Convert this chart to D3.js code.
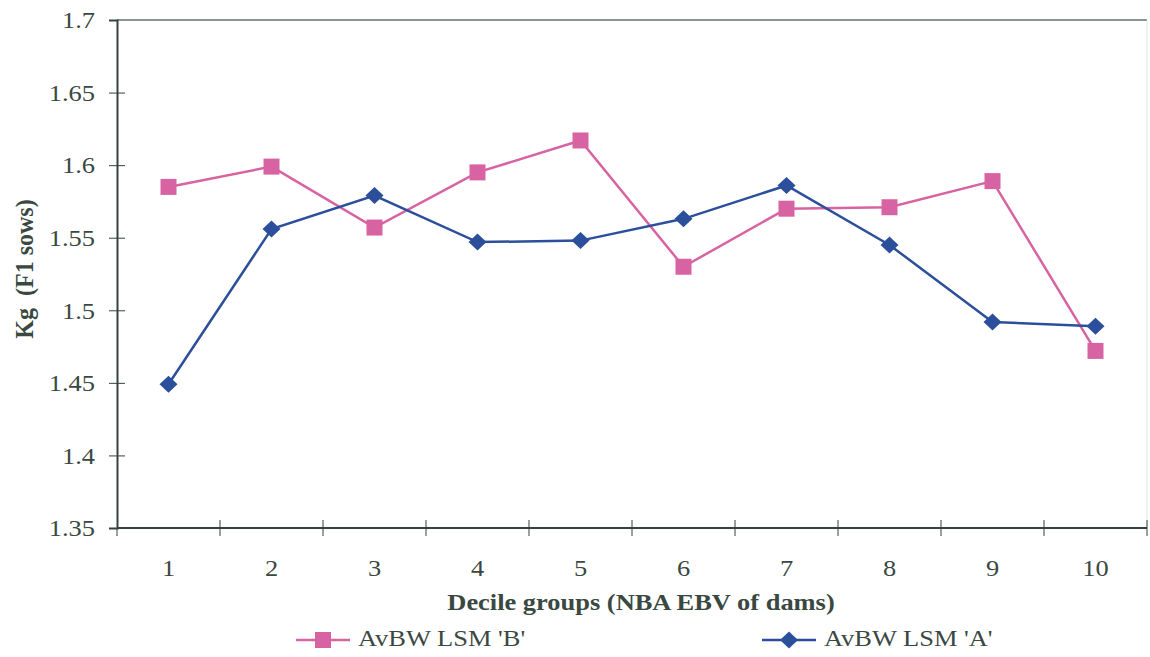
<!DOCTYPE html>
<html>
<head>
<meta charset="utf-8">
<script src="https://cdn.jsdelivr.net/npm/d3@7"></script>
<style>
  body { margin: 0; background: #fff; }
  svg { display: block; }
</style>
</head>
<body>
<div id="chart"></div>
<script>
/* chart data */
var deciles = [1, 2, 3, 4, 5, 6, 7, 8, 9, 10]
var lsmB = [1.585, 1.599, 1.557, 1.595, 1.617, 1.530, 1.570, 1.571, 1.589, 1.472]
var lsmA = [1.449, 1.556, 1.579, 1.547, 1.548, 1.563, 1.586, 1.545, 1.492, 1.489]
var yTicks = [1.35, 1.4, 1.45, 1.5, 1.55, 1.6, 1.65, 1.7]
var seriesNames = ["AvBW LSM 'B'", "AvBW LSM 'A'"]

var width = 1150, height = 657
var margin = { top: 20, right: 3, bottom: 129, left: 117 }
var axisColor = "#34433c"
var textColor = "#3a4842"
var fontFam = "'Liberation Serif', 'Times New Roman', Times, 'DejaVu Serif', serif"
var pink = "#d863a2", blue = "#2c4f9b"
var stretch = 1.15 // the scan is a bit wider than tall, text looks stretched

var svg = d3.select("#chart").append("svg")
  .attr("width", width)
  .attr("height", height)
  .attr("font-family", fontFam)

var x = d3.scaleBand()
  .domain(deciles)
  .range([margin.left, width - margin.right])

var y = d3.scaleLinear()
  .domain([1.35, 1.7])
  .range([height - margin.bottom, margin.top])

// helper: stretched text placed at (px,py)
function addText(parent, px, py, str, opts) {
  return parent.append("text")
    .attr("transform", `translate(${px},${py}) scale(${stretch},1)`)
    .attr("text-anchor", opts.anchor || "start")
    .attr("font-size", opts.size || 23)
    .attr("font-weight", opts.weight || "normal")
    .attr("fill", textColor)
    .text(str)
}

// plot frame (top + right are light)
svg.append("line")
  .attr("x1", margin.left).attr("x2", width - margin.right)
  .attr("y1", y(1.7)).attr("y2", y(1.7))
  .attr("stroke", "#8a9690").attr("stroke-width", 2)
svg.append("line")
  .attr("x1", width - margin.right).attr("x2", width - margin.right)
  .attr("y1", y(1.7)).attr("y2", y(1.35))
  .attr("stroke", "#dfe2e0").attr("stroke-width", 1)

// y axis
var yAxis = d3.axisLeft(y)
  .tickValues(yTicks)
  .tickFormat(d3.format("~g"))
  .tickSize(8)
var yg = svg.append("g")
  .attr("transform", `translate(${margin.left},0)`)
  .call(yAxis)
  .attr("font-family", fontFam)
  .attr("font-size", 23)
yg.select(".domain").attr("stroke", axisColor).attr("stroke-width", 2)
yg.selectAll(".tick line").attr("stroke", axisColor).attr("x2", 8).attr("x1", -8)
yg.selectAll(".tick text")
  .attr("fill", textColor)
  .attr("x", -22 / stretch)
  .attr("dy", "0.34em")
  .attr("transform", `scale(${stretch},1)`)
yg.select(".tick:last-of-type line").attr("x2", 0)

// x axis - ticks sit between categories and cross the axis
var xg = svg.append("g")
  .attr("transform", `translate(0,${y(1.35)})`)
xg.append("line")
  .attr("x1", margin.left).attr("x2", width - margin.right)
  .attr("stroke", axisColor).attr("stroke-width", 2)
var boundaries = deciles.map(d => x(d)).concat([width - margin.right])
xg.selectAll(".xtick")
  .data(boundaries)
  .enter().append("line")
  .attr("x1", d => d).attr("x2", d => d)
  .attr("y1", (d, i) => i == 0 ? 0 : -8).attr("y2", 8)
  .attr("stroke", axisColor)
deciles.forEach(d => addText(xg, x(d) + x.bandwidth() / 2, 48, d, { anchor: "middle" }))

// axis titles
addText(svg, 641, 610, "Decile groups (NBA EBV of dams)", { anchor: "middle", weight: "bold" })

svg.append("text")
  .attr("transform", `translate(33,269) rotate(-90) scale(1,1.08)`)
  .attr("text-anchor", "middle")
  .attr("font-size", 24)
  .attr("font-weight", "bold")
  .attr("fill", textColor)
  .style("white-space", "pre")
  .text("Kg  (F1 sows)")

// lines
var cx = d => x(d) + x.bandwidth() / 2
function drawSeries(values, color, shape) {
  var pts = deciles.map((d, i) => [cx(d), y(values[i])])
  svg.append("path")
    .attr("d", d3.line()(pts))
    .attr("fill", "none")
    .attr("stroke", color)
    .attr("stroke-width", 2.5)
  svg.selectAll(null)
    .data(pts)
    .enter().append("path")
    .attr("transform", d => `translate(${d[0]},${d[1]})`)
    .attr("d", shape)
    .attr("fill", color)
}
var squareShape = d3.symbol().type(d3.symbolSquare).size(256)()
var diamondShape = "M0,-8.5L9,0L0,8.5L-9,0Z"

drawSeries(lsmB, pink, squareShape)
drawSeries(lsmA, blue, diamondShape)

// legend
var legend = [
  { name: seriesNames[0], color: pink, shape: squareShape, x: 296 },
  { name: seriesNames[1], color: blue, shape: diamondShape, x: 762 }
]
legend.forEach(d => {
  var g = svg.append("g").attr("transform", `translate(${d.x},640)`)
  g.append("line")
    .attr("x1", 0).attr("x2", 54)
    .attr("stroke", d.color).attr("stroke-width", 2.5)
  g.append("path")
    .attr("transform", "translate(27,0)")
    .attr("d", d.shape)
    .attr("fill", d.color)
  addText(g, 62, 6, d.name, {})
})
</script>
</body>
</html>
